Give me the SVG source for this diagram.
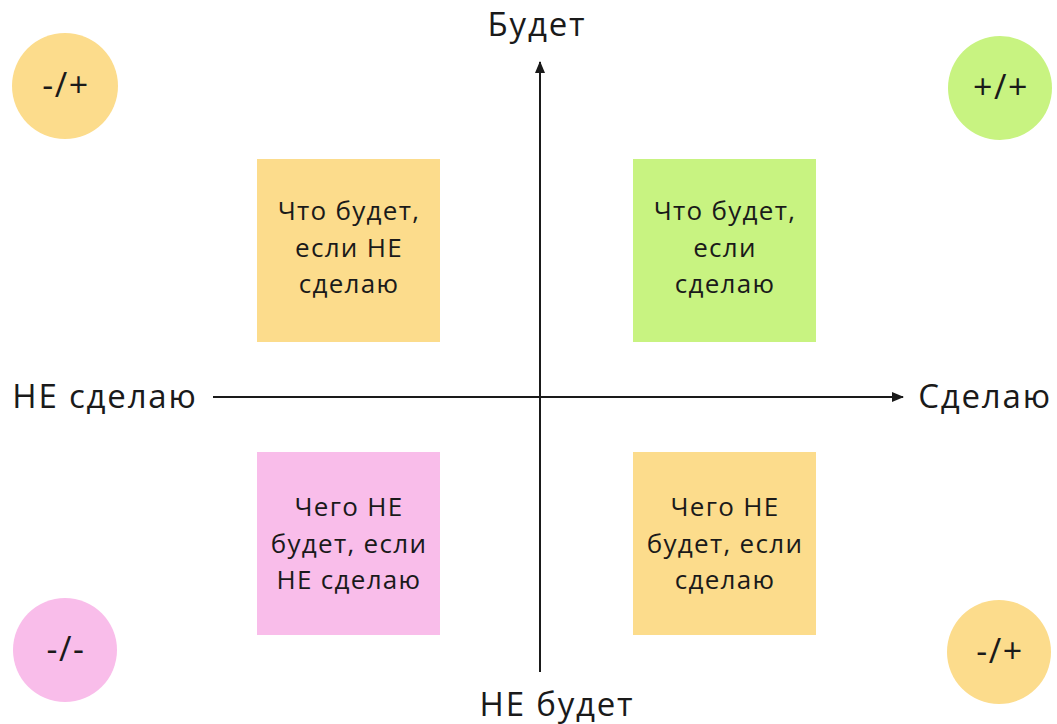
<svg xmlns="http://www.w3.org/2000/svg" width="1057" height="724" viewBox="0 0 1057 724">
<defs>
<style>
.t{font-family:"Open Sans","Liberation Sans",sans-serif;fill:#1a1a1a;text-anchor:middle}
.ax{font-size:33px;letter-spacing:1.8px}
.bx{font-size:26px;letter-spacing:1.3px}
.ci{font-size:34px;letter-spacing:1.5px}
.y{fill:#FCDC8C}
.g{fill:#C8F381}
.p{fill:#F9BDEA}
.axis{stroke:#1a1a1a;stroke-width:2;fill:none}
</style>
<marker id="ah" viewBox="0 0 12 10" refX="11" refY="5" markerWidth="12" markerHeight="10" markerUnits="userSpaceOnUse" orient="auto">
<path d="M0,0 L12,5 L0,10 Z" fill="#1a1a1a"/>
</marker>
</defs>
<rect width="1057" height="724" fill="#ffffff"/>
<g id="connectors">
<line class="axis" x1="540" y1="672" x2="540" y2="62" marker-end="url(#ah)"/>
<line class="axis" x1="213" y1="397" x2="903" y2="397" marker-end="url(#ah)"/>
</g>
<g id="label-top"><text class="t ax" x="537" y="36">Будет</text></g>
<g id="label-bottom"><text class="t ax" x="557" y="716">НЕ будет</text></g>
<g id="label-left"><text class="t ax" x="105" y="408">НЕ сделаю</text></g>
<g id="label-right"><text class="t ax" x="985" y="408">Сделаю</text></g>
<g id="circle-tl"><circle class="y" cx="65" cy="86" r="53"/><text class="t ci" x="66" y="97">-/+</text></g>
<g id="circle-tr"><circle class="g" cx="1000" cy="88" r="52"/><text class="t ci" x="1001" y="99">+/+</text></g>
<g id="circle-bl"><circle class="p" cx="65" cy="650" r="52"/><text class="t ci" x="66" y="661">-/-</text></g>
<g id="circle-br"><circle class="y" cx="999" cy="652" r="52"/><text class="t ci" x="1000" y="663">-/+</text></g>
<g id="box-tl"><rect class="y" x="257" y="159" width="183" height="183"/>
<text class="t bx" x="349" y="220">Что будет,</text><text class="t bx" x="349" y="257">если НЕ</text><text class="t bx" x="349" y="293">сделаю</text></g>
<g id="box-tr"><rect class="g" x="633" y="159" width="183" height="183"/>
<text class="t bx" x="725" y="220">Что будет,</text><text class="t bx" x="725" y="257">если</text><text class="t bx" x="725" y="293">сделаю</text></g>
<g id="box-bl"><rect class="p" x="257" y="452" width="183" height="183"/>
<text class="t bx" x="349" y="516">Чего НЕ</text><text class="t bx" x="349" y="553">будет, если</text><text class="t bx" x="349" y="589">НЕ сделаю</text></g>
<g id="box-br"><rect class="y" x="633" y="452" width="183" height="183"/>
<text class="t bx" x="725" y="516">Чего НЕ</text><text class="t bx" x="725" y="553">будет, если</text><text class="t bx" x="725" y="589">сделаю</text></g>
</svg>
